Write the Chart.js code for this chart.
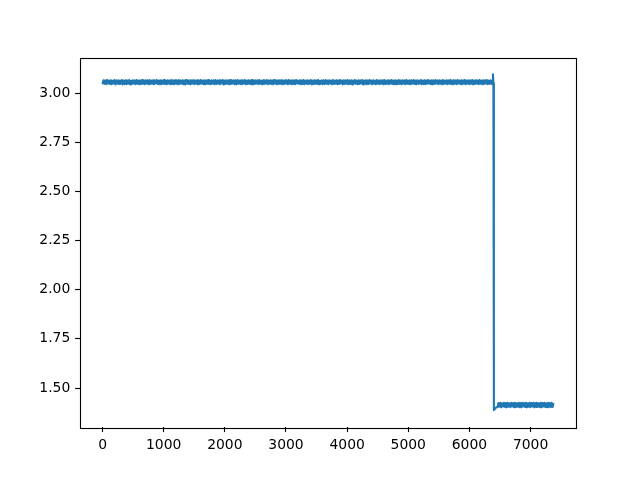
<!DOCTYPE html>
<html>
<head>
<meta charset="utf-8">
<script src="https://cdn.jsdelivr.net/npm/chart.js@4/dist/chart.umd.min.js"></script>
<style>
html,body{margin:0;padding:0;background:#fff;}
#c{display:block;}
</style>
</head>
<body>
<canvas id="c" width="640" height="480"></canvas>
<script>
// upper band samples, x = 0, 15, 30, ... 6375
const upperStart = 0, upperStep = 15;
const upperValues = [
3.045,3.065,3.047,3.064,3.044,3.066,3.048,3.063,3.046,3.065,3.044,3.062,3.049,3.066,3.043,3.064,3.047,3.065,3.046,3.063,
3.048,3.066,3.043,3.063,3.046,3.065,3.045,3.064,3.047,3.066,3.044,3.062,3.046,3.065,3.048,3.064,3.045,3.066,3.047,3.063,
3.044,3.064,3.046,3.066,3.047,3.063,3.045,3.065,3.048,3.064,3.044,3.066,3.046,3.063,3.047,3.065,3.045,3.064,3.049,3.066,
3.046,3.063,3.045,3.065,3.044,3.064,3.047,3.066,3.046,3.062,3.045,3.065,3.048,3.063,3.044,3.066,3.046,3.064,3.045,3.065,
3.047,3.064,3.044,3.066,3.046,3.063,3.048,3.065,3.045,3.064,3.043,3.066,3.047,3.063,3.046,3.065,3.044,3.064,3.048,3.066,
3.045,3.063,3.047,3.065,3.044,3.064,3.046,3.066,3.048,3.063,3.045,3.065,3.044,3.064,3.047,3.066,3.046,3.062,3.045,3.065,
3.048,3.064,3.044,3.066,3.046,3.063,3.047,3.065,3.045,3.064,3.049,3.066,3.043,3.063,3.046,3.065,3.047,3.064,3.044,3.066,
3.046,3.063,3.048,3.065,3.045,3.064,3.044,3.066,3.047,3.063,3.046,3.065,3.045,3.064,3.048,3.066,3.044,3.063,3.046,3.065,
3.047,3.064,3.045,3.066,3.044,3.063,3.046,3.065,3.048,3.064,3.045,3.066,3.047,3.062,3.044,3.065,3.046,3.064,3.048,3.066,
3.045,3.063,3.047,3.065,3.046,3.064,3.044,3.066,3.048,3.063,3.045,3.065,3.046,3.064,3.047,3.066,3.044,3.063,3.046,3.065,
3.048,3.064,3.045,3.066,3.047,3.063,3.044,3.065,3.046,3.064,3.045,3.066,3.048,3.063,3.047,3.065,3.044,3.064,3.046,3.066,
3.045,3.063,3.047,3.065,3.046,3.064,3.048,3.066,3.044,3.063,3.045,3.065,3.047,3.064,3.046,3.066,3.045,3.062,3.048,3.065,
3.044,3.064,3.046,3.066,3.047,3.063,3.045,3.065,3.048,3.064,3.044,3.066,3.046,3.063,3.047,3.065,3.045,3.064,3.046,3.066,
3.048,3.063,3.044,3.065,3.046,3.064,3.047,3.066,3.045,3.063,3.046,3.065,3.044,3.064,3.048,3.066,3.047,3.063,3.045,3.065,
3.046,3.064,3.048,3.066,3.044,3.063,3.047,3.065,3.045,3.064,3.046,3.066,3.048,3.063,3.044,3.065,3.047,3.064,3.045,3.066,
3.047,3.063,3.045,3.065,3.048,3.064,3.044,3.066,3.046,3.063,3.047,3.065,3.045,3.064,3.048,3.066,3.046,3.063,3.044,3.065,
3.045,3.064,3.047,3.066,3.046,3.063,3.044,3.065,3.048,3.064,3.045,3.066,3.047,3.063,3.046,3.065,3.044,3.064,3.048,3.066,
3.046,3.063,3.045,3.065,3.047,3.064,3.048,3.066,3.044,3.063,3.046,3.065,3.045,3.064,3.047,3.066,3.048,3.063,3.045,3.065,
3.044,3.064,3.046,3.066,3.048,3.063,3.045,3.065,3.047,3.064,3.044,3.066,3.046,3.063,3.048,3.065,3.045,3.064,3.047,3.066,
3.046,3.063,3.044,3.065,3.047,3.064,3.045,3.066,3.048,3.063,3.046,3.065,3.044,3.064,3.047,3.066,3.045,3.063,3.048,3.065,
3.045,3.064,3.047,3.066,3.044,3.063,3.046,3.065,3.048,3.064,3.045,3.066,3.047,3.063,3.044,3.065,3.046,3.064,3.048,3.066,
3.045,3.063,3.047,3.065,3.046,3.064
];
// transition around the drop
const transX = [6385, 6392, 6400, 6420, 6440];
const transY = [3.095, 3.050, 1.388, 1.396, 1.402];
// lower band samples, x = 6460, 6475, ... 7375
const lowerStart = 6460, lowerStep = 15;
const lowerValues = [
1.403,1.424,1.405,1.425,1.402,1.423,1.406,1.425,1.404,1.424,1.402,1.425,1.405,1.423,1.403,1.425,1.406,1.424,1.402,1.425,
1.404,1.423,1.405,1.425,1.403,1.424,1.402,1.425,1.406,1.424,1.404,1.425,1.402,1.423,1.405,1.425,1.403,1.424,1.406,1.425,
1.402,1.424,1.404,1.425,1.405,1.423,1.403,1.425,1.402,1.424,1.406,1.425,1.404,1.423,1.402,1.425,1.405,1.424,1.403,1.425,
1.404,1.424
];
const xTicks = [0,1000,2000,3000,4000,5000,6000,7000];
const yTicks = [1.50,1.75,2.00,2.25,2.50,2.75,3.00];
const xRange = [-369, 7743];
const yRange = [1.301, 3.180];

const points = [];
upperValues.forEach((v,i)=>points.push({x: upperStart + i*upperStep, y: v}));
transX.forEach((x,i)=>points.push({x: x, y: transY[i]}));
lowerValues.forEach((v,i)=>points.push({x: lowerStart + i*lowerStep, y: v}));

const font = {family: 'DejaVu Sans', size: 13.9};
const boxPlugin = {
  id: 'box',
  afterDraw(chart){
    const a = chart.chartArea, ctx = chart.ctx;
    ctx.save();
    ctx.strokeStyle = '#000';
    ctx.lineWidth = 1.11;
    ctx.strokeRect(Math.round(a.left)+0.5, Math.round(a.top)+0.5, Math.round(a.right-a.left), Math.round(a.bottom-a.top));
    ctx.restore();
  }
};

new Chart(document.getElementById('c'), {
  type: 'line',
  data: {
    datasets: [{
      data: points,
      borderColor: '#1f77b4',
      borderWidth: 2.08,
      borderJoinStyle: 'round',
      borderCapStyle: 'butt',
      pointRadius: 0,
      fill: false,
      tension: 0
    }]
  },
  options: {
    responsive: false,
    animation: false,
    devicePixelRatio: 1,
    layout: {padding: {left: 0, right: 64, top: 57.6, bottom: 0}},
    plugins: {legend: {display: false}, tooltip: {enabled: false}},
    scales: {
      x: {
        type: 'linear',
        min: xRange[0], max: xRange[1],
        afterBuildTicks(s){ s.ticks = xTicks.map(v=>({value:v})); },
        afterFit(s){ s.height = 52.8; },
        grid: {display: true, drawOnChartArea: false, tickLength: 4.86, tickColor: '#000', tickWidth: 1.11},
        border: {display: false},
        ticks: {color: '#000', font: font, padding: 4.86, maxRotation: 0, autoSkip: false,
          callback: v => String(v)}
      },
      y: {
        type: 'linear',
        min: yRange[0], max: yRange[1],
        afterBuildTicks(s){ s.ticks = yTicks.map(v=>({value:v})); },
        afterFit(s){ s.width = 80; },
        grid: {display: true, drawOnChartArea: false, tickLength: 4.86, tickColor: '#000', tickWidth: 1.11},
        border: {display: false},
        ticks: {color: '#000', font: font, padding: 4.86, autoSkip: false,
          callback: v => Number(v).toFixed(2)}
      }
    }
  },
  plugins: [boxPlugin]
});
</script>
</body>
</html>
